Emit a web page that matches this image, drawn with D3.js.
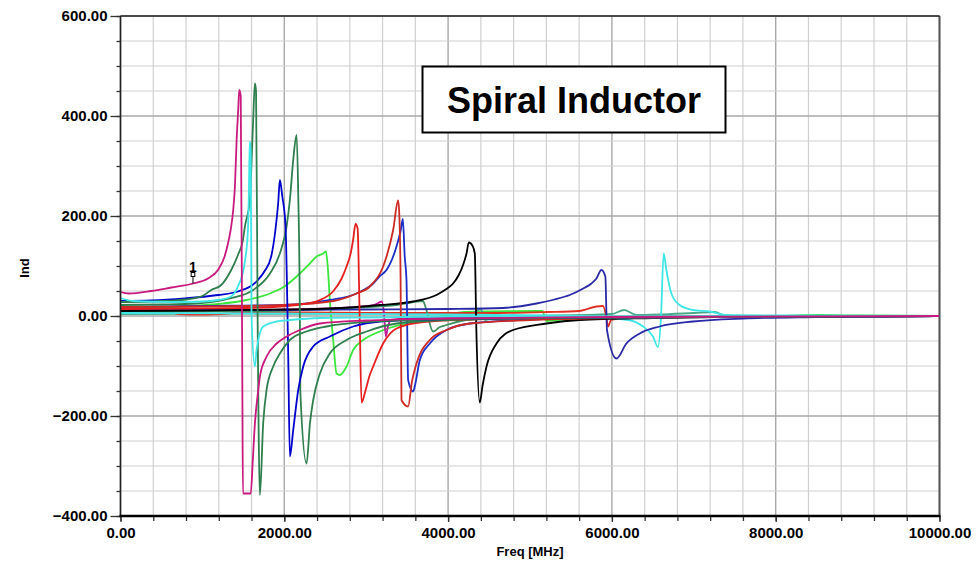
<!DOCTYPE html>
<html><head><meta charset="utf-8">
<script src="https://cdn.jsdelivr.net/npm/d3@7"></script>
<style>
body{margin:0;background:#fff;}
svg text{font-family:"Liberation Sans",Arial,Helvetica,sans-serif;font-weight:bold;fill:#000;}
</style>
</head><body>
<svg id="chart" width="980" height="563"></svg>
<script>
// ---- data ----
const xTicks = [0, 2000, 4000, 6000, 8000, 10000];
const yTicks = [-400, -200, 0, 200, 400, 600];
const xLabel = "Freq [MHz]";
const yLabel = "Ind";
const title = "Spiral Inductor";

// each series: [freq MHz, inductance]
const lightGreen = [[0,15],[376,17],[1190,24],[1540,32],[1824,45],[2010,60],[2190,85],[2312,105],[2394,119],[2475,125],[2508,129],[2530,100],[2556,32],[2597,-48],[2638,-115],[2678,-118],[2760,-101],[2841,-68],[2963,-48],[3167,-31],[3492,-15],[3777,-5],[4000,2],[4200,8],[5150,10],[5200,-10],[5500,-6],[6500,-3],[8000,0],[8500,2],[9000,1],[10000,0]];
const tealSmall = [[0,4],[3000,5],[4300,6],[4400,14],[4450,-8],[4600,-2],[6000,4],[6150,12],[6300,2],[7000,6],[7250,8],[7400,0],[10000,0]];
const redC = [[0,8],[600,8],[700,4],[1000,3],[1300,5],[1500,8],[3000,6],[4500,6],[5200,8],[5600,10],[5811,19],[5891,20],[5930,0],[5953,-21],[5990,-8],[6200,-3],[7000,-1],[10000,0]];
const purpleSmall = [[0,10],[1000,11],[2000,13],[2800,17],[3100,22],[3190,29],[3215,9],[3240,-41],[3265,-21],[3310,-8],[3600,-4],[5000,-2],[10000,0]];
const greenSmall = [[0,8],[1000,9],[2000,11],[2900,17],[3371,22],[3550,27],[3695,30],[3720,20],[3817,-31],[3900,-22],[3981,-18],[4220,-8],[4700,-4],[6000,-2],[10000,0]];
const cyanB = [[0,6],[2000,5],[4000,3],[5500,0],[6200,-8],[6380,-21],[6502,-41],[6563,-62],[6600,0],[6632,125],[6665,92],[6726,45],[6827,22],[6990,12],[7193,9],[7397,2],[8000,1],[10000,0]];
const navyC = [[0,12],[1000,12],[2000,12],[3000,13],[4000,14],[4671,16],[5079,25],[5300,33],[5485,42],[5650,55],[5750,65],[5811,75],[5872,92],[5920,79],[5940,-28],[6055,-85],[6177,-55],[6339,-35],[6583,-21],[6990,-11],[7600,-5],[8500,-2],[10000,0]];
const blackS = [[0,10],[1000,11],[2000,13],[2556,15],[3167,22],[3573,29],[3858,42],[3960,52],[4061,65],[4130,82],[4183,102],[4225,125],[4253,147],[4300,140],[4326,125],[4345,-28],[4387,-173],[4420,-140],[4469,-101],[4591,-55],[4793,-28],[5201,-15],[5607,-8],[6500,-4],[8000,-1],[10000,0]];
const blueB = [[0,18],[1000,20],[2000,22],[2556,32],[2882,45],[3085,65],[3167,80],[3248,92],[3370,139],[3420,170],[3447,194],[3470,120],[3492,72],[3512,-128],[3573,-151],[3594,-140],[3655,-88],[3777,-55],[3981,-28],[4265,-15],[5000,-7],[6000,-3],[8000,-1],[10000,0]];
const redB = [[0,18],[1000,19],[2000,22],[2600,30],[2882,45],[3044,59],[3207,99],[3329,172],[3390,231],[3405,200],[3420,72],[3431,-168],[3512,-181],[3560,-130],[3614,-95],[3777,-48],[3981,-28],[4265,-15],[5000,-8],[6000,-4],[8000,-1],[10000,0]];
const redA = [[0,14],[800,15],[1540,16],[2150,22],[2435,32],[2600,50],[2700,75],[2760,99],[2810,125],[2840,152],[2870,184],[2895,175],[2920,0],[2943,-173],[2990,-150],[3040,-120],[3085,-101],[3207,-55],[3370,-25],[3700,-12],[4500,-6],[6000,-3],[8000,-1],[10000,0]];
const greenB = [[0,22],[500,23],[930,25],[1335,35],[1620,52],[1825,85],[1946,125],[2028,179],[2068,232],[2109,312],[2150,362],[2170,245],[2190,0],[2195,-148],[2272,-295],[2313,-215],[2353,-168],[2435,-115],[2556,-75],[2760,-48],[3005,-31],[3371,-15],[4000,-8],[6000,-3],[10000,0]];
const blueA = [[0,30],[376,31],[783,35],[1190,42],[1434,49],[1678,72],[1760,90],[1840,119],[1890,170],[1925,225],[1946,272],[1975,240],[2015,180],[2035,40],[2048,-81],[2068,-281],[2109,-228],[2170,-148],[2231,-101],[2353,-61],[2556,-41],[2841,-21],[3167,-11],[4000,-6],[6000,-3],[10000,0]];
const greenA = [[0,28],[400,29],[800,33],[1000,40],[1108,52],[1230,62],[1352,92],[1434,122],[1495,152],[1519,179],[1580,232],[1601,312],[1620,392],[1641,465],[1655,450],[1674,0],[1702,-358],[1742,-215],[1783,-148],[1864,-101],[1946,-75],[2068,-48],[2272,-31],[2516,-21],[3000,-12],[4000,-6],[6000,-3],[10000,0]];
const cyanA = [[0,36],[150,30],[600,28],[1000,29],[1190,32],[1340,38],[1434,59],[1515,105],[1556,172],[1568,250],[1578,349],[1590,330],[1600,0],[1641,-101],[1660,-70],[1682,-48],[1742,-21],[1905,-11],[2068,-8],[2435,-4],[3000,-3],[4000,-1],[10000,0]];
const magentaA = [[0,48],[100,45],[376,50],[620,57],[885,65],[1068,75],[1190,92],[1271,119],[1312,145],[1345,172],[1375,210],[1397,259],[1418,352],[1437,412],[1450,452],[1468,440],[1488,-150],[1495,-355],[1590,-355],[1615,-290],[1641,-215],[1682,-148],[1702,-121],[1784,-81],[1906,-55],[2029,-41],[2190,-28],[2435,-15],[3000,-9],[4000,-5],[6000,-2],[10000,0]];

const seriesList = [
  {data: lightGreen, color: "#3ae63a"},
  {data: tealSmall, color: "#4aa88a"},
  {data: redC, color: "#e03020"},
  {data: purpleSmall, color: "#c01a9a"},
  {data: greenSmall, color: "#3d8f5f"},
  {data: cyanB, color: "#3ee6e6"},
  {data: navyC, color: "#2a2aa8"},
  {data: blackS, color: "#000000"},
  {data: blueB, color: "#1a2ec8"},
  {data: redB, color: "#cc2a22"},
  {data: redA, color: "#e61e1e"},
  {data: greenB, color: "#2e7f4e"},
  {data: blueA, color: "#0000cc"},
  {data: greenA, color: "#2e7f4e"},
  {data: cyanA, color: "#3ee6e6"},
  {data: magentaA, color: "#c8197e"}
];
const marker = {label: "1", freq: 885, value: 65};

// ---- drawing ----
const svg = d3.select("#chart");
const x = d3.scaleLinear().domain([0, 10000]).range([120.5, 939.5]);
const y = d3.scaleLinear().domain([-400, 600]).range([516, 16]);

const grid = svg.append("g");
const minorX = d3.range(0, 10001, 400);
const minorY = d3.range(-400, 601, 50);
grid.selectAll(".vx").data(minorX).join("line")
  .attr("x1", d => x(d)).attr("x2", d => x(d)).attr("y1", y(600)).attr("y2", y(-400))
  .attr("stroke", d => d % 2000 === 0 ? "#a8a8a8" : "#d0d0d0").attr("stroke-width", d => d % 2000 === 0 ? 1.4 : 1.2);
grid.selectAll(".hy").data(minorY).join("line")
  .attr("y1", d => y(d)).attr("y2", d => y(d)).attr("x1", x(0)).attr("x2", x(10000))
  .attr("stroke", d => d % 200 === 0 ? "#a8a8a8" : "#d0d0d0").attr("stroke-width", d => d % 200 === 0 ? 1.4 : 1.2);

// frame
svg.append("line").attr("x1", x(10000)).attr("x2", x(10000)).attr("y1", y(600)).attr("y2", y(-400)).attr("stroke", "#555").attr("stroke-width", 2);
svg.append("line").attr("x1", x(0)).attr("x2", x(10000)).attr("y1", y(600)).attr("y2", y(600)).attr("stroke", "#222").attr("stroke-width", 1.5);

// curves
svg.append("clipPath").attr("id", "pc").append("rect")
  .attr("x", x(0)).attr("y", y(600)).attr("width", x(10000) - x(0)).attr("height", y(-400) - y(600));
const line = d3.line().x(d => x(d[0])).y(d => y(d[1])).curve(d3.curveMonotoneX);
svg.append("g").attr("clip-path", "url(#pc)").selectAll("path").data(seriesList).join("path")
  .attr("d", d => line(d.data)).attr("fill", "none").attr("stroke", d => d.color)
  .attr("stroke-width", 1.8).attr("stroke-linejoin", "round");

// axes
const fmt = d3.format(".2f");
const yMinor = svg.append("g").attr("transform", `translate(${x(0)},0)`)
  .call(d3.axisLeft(y).tickValues(minorY).tickSize(4).tickFormat(""));
const yAxis = svg.append("g").attr("transform", `translate(${x(0)},0)`)
  .call(d3.axisLeft(y).tickValues(yTicks).tickSize(10).tickPadding(3).tickFormat(fmt));
const xMinor = svg.append("g").attr("transform", `translate(0,${y(-400)})`)
  .call(d3.axisBottom(x).tickValues(minorX).tickSize(5).tickFormat(""));
const xAxis = svg.append("g").attr("transform", `translate(0,${y(-400)})`)
  .call(d3.axisBottom(x).tickValues(xTicks).tickSize(6).tickPadding(3).tickFormat(fmt));
[yMinor, yAxis, xMinor, xAxis].forEach(g => {
  g.selectAll("line").attr("stroke", "#333").attr("stroke-width", 1.3);
  g.select(".domain").remove();
});
svg.append("line").attr("x1", x(0)).attr("x2", x(0)).attr("y1", y(600)).attr("y2", y(-400)).attr("stroke", "#222").attr("stroke-width", 1.6);
svg.append("line").attr("x1", x(0) - 1).attr("x2", x(10000) + 1).attr("y1", y(-400)).attr("y2", y(-400)).attr("stroke", "#000").attr("stroke-width", 2.6);
[yAxis, xAxis].forEach(g => g.selectAll("text").attr("font-size", 15).attr("fill", "#000")
  .style("font-family", "'Liberation Sans', Arial, sans-serif").style("font-weight", "bold"));
xAxis.selectAll("text").attr("dy", "0.85em");

// axis titles
svg.append("text").attr("x", 530).attr("y", 556).attr("text-anchor", "middle").attr("font-size", 13).text(xLabel);
svg.append("text").attr("transform", "translate(29,268) rotate(-90)").attr("text-anchor", "middle").attr("font-size", 13).text(yLabel);

// marker
const mx = x(marker.freq), my = y(marker.value);
svg.append("line").attr("x1", mx).attr("x2", mx).attr("y1", my - 9).attr("y2", my).attr("stroke", "#000").attr("stroke-width", 1);
svg.append("rect").attr("x", mx - 1.8).attr("y", my - 11).attr("width", 3.6).attr("height", 4).attr("fill", "#fff").attr("stroke", "#000").attr("stroke-width", 1);
svg.append("text").attr("x", mx).attr("y", my - 12).attr("text-anchor", "middle").attr("font-size", 14).text(marker.label);

// title box
svg.append("rect").attr("x", 422.5).attr("y", 66.5).attr("width", 303).attr("height", 66)
  .attr("fill", "#fff").attr("stroke", "#000").attr("stroke-width", 2);
svg.append("text").attr("x", 574).attr("y", 113).attr("text-anchor", "middle").attr("font-size", 36).text(title);
</script>
</body></html>
